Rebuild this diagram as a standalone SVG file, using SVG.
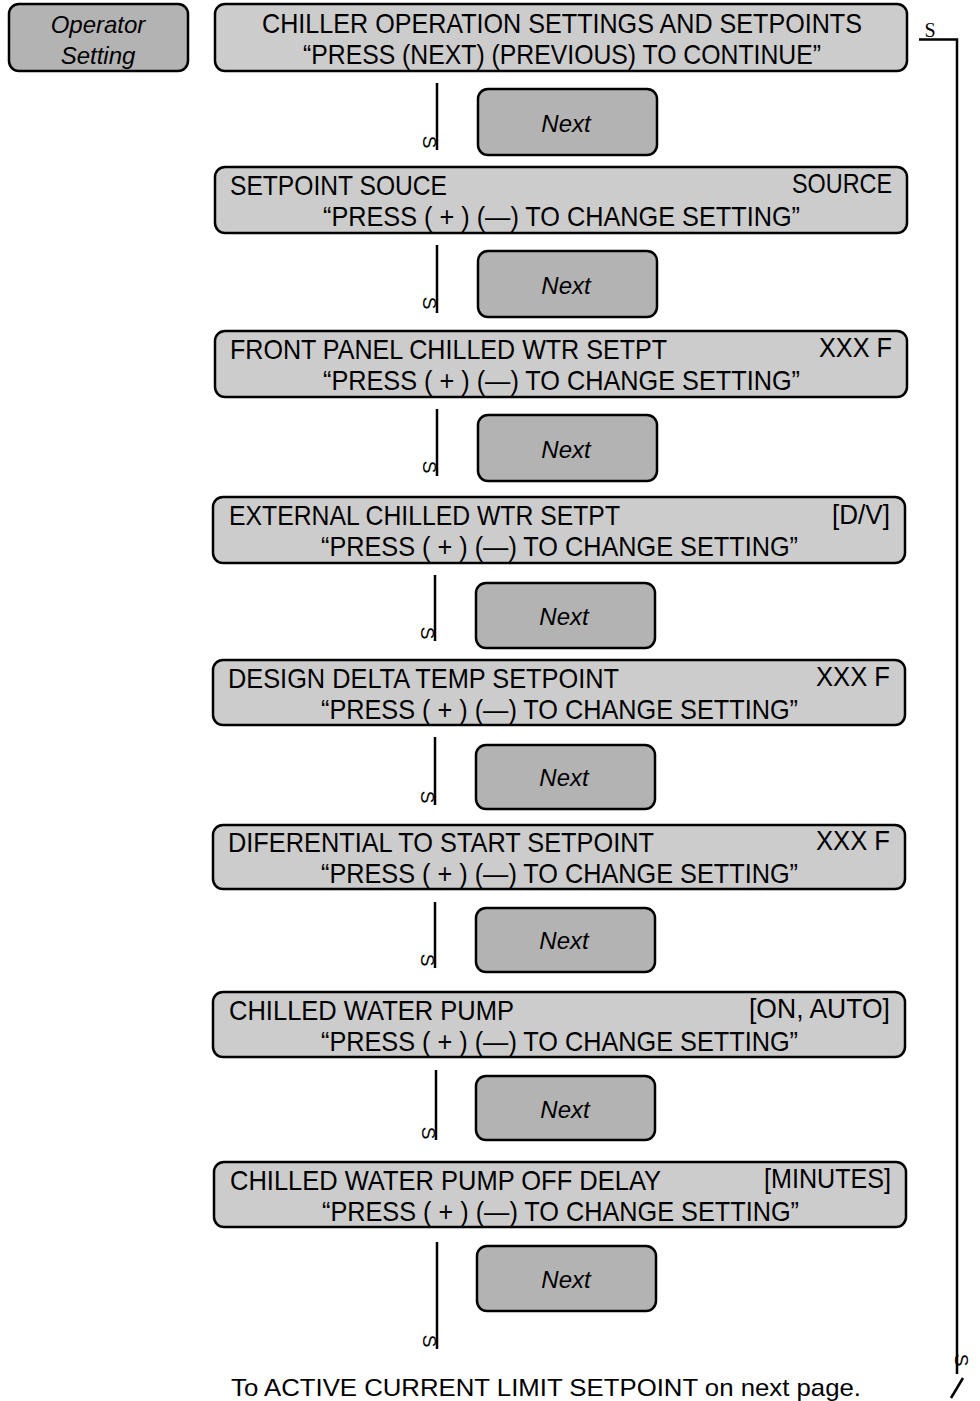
<svg xmlns="http://www.w3.org/2000/svg" width="980" height="1401" viewBox="0 0 980 1401">
<style>
.box{fill:#cccccc;stroke:#000;stroke-width:2.5}
.btn{fill:#b3b3b3;stroke:#000;stroke-width:2.5}
.t{font-family:"Liberation Sans",Arial,sans-serif;font-size:28px;fill:#000}
.i{font-family:"Liberation Sans",Arial,sans-serif;font-size:24px;font-style:italic;fill:#000;text-anchor:middle}
.s{font-family:"Liberation Sans",Arial,sans-serif;font-size:19px;fill:#000;text-anchor:middle}
.ln{stroke:#000;stroke-width:2.5;fill:none}
</style>
<rect width="980" height="1401" fill="#fff"/>
<g id="operator">
<rect class="btn" x="9" y="4" width="179" height="67" rx="10"/>
<text class="i" x="98" y="33">Operator</text>
<text class="i" x="98" y="64">Setting</text>
</g>
<g id="n1">
<rect class="box" x="215" y="4" width="692" height="67" rx="10"/>
<text class="t" x="262" y="33" textLength="600" lengthAdjust="spacingAndGlyphs">CHILLER OPERATION SETTINGS AND SETPOINTS</text>
<text class="t" x="303" y="64" textLength="518" lengthAdjust="spacingAndGlyphs">“PRESS (NEXT) (PREVIOUS) TO CONTINUE”</text>
</g>
<g id="next1"><rect class="btn" x="478" y="89" width="179" height="66" rx="10"/><text class="i" x="566" y="132">Next</text></g>
<g id="n2">
<rect class="box" x="215" y="167" width="692" height="66" rx="10"/>
<text class="t" x="230" y="195" textLength="217" lengthAdjust="spacingAndGlyphs">SETPOINT SOUCE</text>
<text class="t" x="792" y="193" textLength="100" lengthAdjust="spacingAndGlyphs">SOURCE</text>
<text class="t" x="323" y="226" textLength="477" lengthAdjust="spacingAndGlyphs">“PRESS ( + ) (—) TO CHANGE SETTING”</text>
</g>
<g id="next2"><rect class="btn" x="478" y="251" width="179" height="66" rx="10"/><text class="i" x="566" y="294">Next</text></g>
<g id="n3">
<rect class="box" x="215" y="331" width="692" height="66" rx="10"/>
<text class="t" x="230" y="359" textLength="437" lengthAdjust="spacingAndGlyphs">FRONT PANEL CHILLED WTR SETPT</text>
<text class="t" x="819" y="357" textLength="73" lengthAdjust="spacingAndGlyphs">XXX F</text>
<text class="t" x="323" y="390" textLength="477" lengthAdjust="spacingAndGlyphs">“PRESS ( + ) (—) TO CHANGE SETTING”</text>
</g>
<g id="next3"><rect class="btn" x="478" y="415" width="179" height="66" rx="10"/><text class="i" x="566" y="458">Next</text></g>
<g id="n4">
<rect class="box" x="213" y="497" width="692" height="66" rx="10"/>
<text class="t" x="229" y="525" textLength="391" lengthAdjust="spacingAndGlyphs">EXTERNAL CHILLED WTR SETPT</text>
<text class="t" x="832" y="524" textLength="58" lengthAdjust="spacingAndGlyphs">[D/V]</text>
<text class="t" x="321" y="556" textLength="477" lengthAdjust="spacingAndGlyphs">“PRESS ( + ) (—) TO CHANGE SETTING”</text>
</g>
<g id="next4"><rect class="btn" x="476" y="583" width="179" height="65" rx="10"/><text class="i" x="564" y="625">Next</text></g>
<g id="n5">
<rect class="box" x="213" y="660" width="692" height="65" rx="10"/>
<text class="t" x="228" y="688" textLength="391" lengthAdjust="spacingAndGlyphs">DESIGN DELTA TEMP SETPOINT</text>
<text class="t" x="816" y="686" textLength="74" lengthAdjust="spacingAndGlyphs">XXX F</text>
<text class="t" x="321" y="719" textLength="477" lengthAdjust="spacingAndGlyphs">“PRESS ( + ) (—) TO CHANGE SETTING”</text>
</g>
<g id="next5"><rect class="btn" x="476" y="745" width="179" height="64" rx="10"/><text class="i" x="564" y="786">Next</text></g>
<g id="n6">
<rect class="box" x="213" y="825" width="692" height="64" rx="10"/>
<text class="t" x="228" y="852" textLength="426" lengthAdjust="spacingAndGlyphs">DIFERENTIAL TO START SETPOINT</text>
<text class="t" x="816" y="850" textLength="74" lengthAdjust="spacingAndGlyphs">XXX F</text>
<text class="t" x="321" y="883" textLength="477" lengthAdjust="spacingAndGlyphs">“PRESS ( + ) (—) TO CHANGE SETTING”</text>
</g>
<g id="next6"><rect class="btn" x="476" y="908" width="179" height="64" rx="10"/><text class="i" x="564" y="949">Next</text></g>
<g id="n7">
<rect class="box" x="213" y="992" width="692" height="65" rx="10"/>
<text class="t" x="229" y="1020" textLength="285" lengthAdjust="spacingAndGlyphs">CHILLED WATER PUMP</text>
<text class="t" x="749" y="1018" textLength="141" lengthAdjust="spacingAndGlyphs">[ON, AUTO]</text>
<text class="t" x="321" y="1051" textLength="477" lengthAdjust="spacingAndGlyphs">“PRESS ( + ) (—) TO CHANGE SETTING”</text>
</g>
<g id="next7"><rect class="btn" x="476" y="1076" width="179" height="64" rx="10"/><text class="i" x="565" y="1118">Next</text></g>
<g id="n8">
<rect class="box" x="214" y="1162" width="692" height="65" rx="10"/>
<text class="t" x="230" y="1190" textLength="431" lengthAdjust="spacingAndGlyphs">CHILLED WATER PUMP OFF DELAY</text>
<text class="t" x="764" y="1188" textLength="127" lengthAdjust="spacingAndGlyphs">[MINUTES]</text>
<text class="t" x="322" y="1221" textLength="477" lengthAdjust="spacingAndGlyphs">“PRESS ( + ) (—) TO CHANGE SETTING”</text>
</g>
<g id="next8"><rect class="btn" x="477" y="1246" width="179" height="65" rx="10"/><text class="i" x="566" y="1288">Next</text></g>
<g id="connectors">
<path class="ln" d="M437 83V150M437 245V313M437 409V476M435 575V641M435 737V805M435 902V968M436 1070V1140M437 1242V1349"/>
<text class="s" transform="translate(430,142) rotate(90)" y="7">S</text>
<text class="s" transform="translate(430,303) rotate(90)" y="7">S</text>
<text class="s" transform="translate(430,467) rotate(90)" y="7">S</text>
<text class="s" transform="translate(428,633) rotate(90)" y="7">S</text>
<text class="s" transform="translate(428,797) rotate(90)" y="7">S</text>
<text class="s" transform="translate(428,960) rotate(90)" y="7">S</text>
<text class="s" transform="translate(429,1133) rotate(90)" y="7">S</text>
<text class="s" transform="translate(430,1341) rotate(90)" y="7">S</text>
<path class="ln" d="M919 39.5H957V1374"/>
<text x="930" y="37" style="font-family:'Liberation Serif','Times New Roman',serif;font-size:20px;text-anchor:middle">S</text>
<text class="s" transform="translate(962,1360) rotate(90)" y="7">S</text>
<path class="ln" d="M963 1378L951 1398" stroke-width="1.5"/>
</g>
<text x="231" y="1396" style="font-family:'Liberation Sans',Arial,sans-serif;font-size:24px" textLength="630" lengthAdjust="spacingAndGlyphs">To ACTIVE CURRENT LIMIT SETPOINT on next page.</text>
</svg>
